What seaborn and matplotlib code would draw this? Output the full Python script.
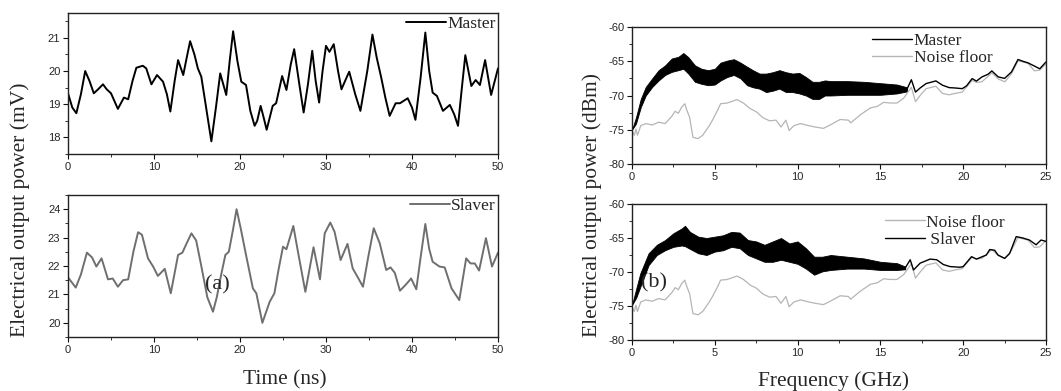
import matplotlib
matplotlib.use("Agg")
import matplotlib.pyplot as plt
from matplotlib.ticker import MultipleLocator
from matplotlib.lines import Line2D
import seaborn as sns
import pandas as pd

# ---------------- data ----------------
master_trace = [
    (0, 19.33), (0.5, 18.9), (0.97, 18.73), (1.5, 19.3), (2.0, 20.0), (2.5, 19.7),
    (3.0, 19.33), (3.5, 19.45), (4.07, 19.6), (4.5, 19.45), (5.0, 19.33), (5.8, 18.86),
    (6.5, 19.2), (7.0, 19.15), (7.5, 19.7), (7.95, 20.1), (8.7, 20.16), (9.1, 20.08),
    (9.7, 19.6), (10.35, 19.88), (11.05, 19.68), (11.5, 19.3), (11.9, 18.78), (12.4, 19.7),
    (12.8, 20.33), (13.4, 19.88), (13.8, 20.4), (14.2, 20.9), (14.7, 20.5), (15.1, 20.08),
    (15.5, 19.83), (16.0, 19.0), (16.67, 17.88), (17.2, 18.9), (17.7, 19.93), (18.4, 19.28),
    (18.8, 20.3), (19.2, 21.2), (19.7, 20.3), (20.15, 19.68), (20.7, 19.58), (21.2, 18.8),
    (21.7, 18.35), (22.0, 18.5), (22.4, 18.95), (22.75, 18.6), (23.1, 18.23), (23.8, 18.95),
    (24.2, 19.03), (24.9, 19.85), (25.4, 19.43), (25.9, 20.2), (26.3, 20.66), (26.9, 19.6),
    (27.4, 18.75), (27.9, 19.6), (28.4, 20.61), (28.8, 19.7), (29.2, 19.05), (29.6, 20.0),
    (30.0, 20.76), (30.4, 20.58), (30.9, 20.81), (31.4, 20.0), (31.8, 19.45), (32.3, 19.75),
    (32.7, 19.98), (33.4, 19.3), (34.0, 18.8), (34.8, 20.0), (35.4, 21.1), (35.9, 20.4),
    (36.4, 19.83), (36.9, 19.2), (37.4, 18.65), (38.1, 19.03), (38.6, 19.03), (39.5, 19.18),
    (40.0, 18.9), (40.4, 18.53), (41.0, 19.8), (41.55, 21.16), (42.0, 20.0), (42.4, 19.35),
    (42.9, 19.25), (43.6, 18.8), (44.4, 18.98), (44.9, 18.7), (45.35, 18.35), (45.8, 19.5),
    (46.2, 20.48), (46.9, 19.55), (47.4, 19.73), (47.9, 19.58), (48.5, 20.33), (49.2, 19.28),
    (50.0, 20.08),
]

slave_trace = [
    (0, 21.6), (0.9, 21.24), (1.5, 21.7), (2.2, 22.47), (2.8, 22.3), (3.3, 21.98),
    (3.9, 22.27), (4.65, 21.53), (5.2, 21.56), (5.8, 21.27), (6.4, 21.5), (7.0, 21.53),
    (7.6, 22.5), (8.15, 23.19), (8.6, 23.1), (9.3, 22.27), (9.9, 21.98), (10.45, 21.65),
    (11.25, 21.9), (11.95, 21.04), (12.8, 22.39), (13.3, 22.47), (13.8, 22.8), (14.35, 23.15),
    (14.9, 22.9), (15.5, 22.0), (16.2, 20.9), (16.86, 20.39), (17.3, 20.9), (17.8, 21.68),
    (18.3, 22.39), (18.7, 22.5), (19.2, 23.3), (19.6, 24.0), (20.1, 23.3), (20.7, 22.39),
    (21.5, 21.21), (21.9, 21.04), (22.6, 20.0), (23.45, 20.74), (24.0, 21.04), (24.5, 21.9),
    (25.0, 22.68), (25.4, 22.59), (26.2, 23.41), (26.8, 22.4), (27.6, 21.09), (28.55, 22.66),
    (29.3, 21.53), (29.85, 23.15), (30.5, 23.53), (31.0, 23.2), (31.7, 22.21), (32.5, 22.78),
    (33.1, 21.92), (33.7, 21.6), (34.3, 21.27), (34.9, 22.3), (35.55, 23.33), (36.25, 22.8),
    (37.0, 21.86), (37.5, 21.95), (38.0, 21.76), (38.6, 21.13), (39.3, 21.35), (39.9, 21.56),
    (40.5, 21.18), (41.0, 22.3), (41.55, 23.48), (42.0, 22.6), (42.4, 22.15), (43.2, 21.98),
    (43.8, 21.95), (44.6, 21.21), (45.5, 20.8), (46.3, 22.27), (46.8, 22.09), (47.3, 22.09),
    (47.8, 21.84), (48.6, 22.98), (49.3, 21.98), (50.0, 22.47),
]

# noisy spectrum band: (freq GHz, upper envelope dBm, lower envelope dBm)
master_band = [
    (0, -75.0, -75.0), (0.24, -73.2, -74.1), (0.53, -70.5, -71.7), (0.83, -68.75, -70.0),
    (1.22, -67.5, -68.75), (1.61, -66.3, -67.8), (2.0, -65.6, -67.0), (2.4, -64.6, -66.55),
    (2.8, -64.35, -66.3), (3.1, -63.8, -66.1), (3.4, -64.4, -66.8), (3.8, -65.6, -68.0),
    (4.2, -66.1, -68.3), (4.6, -66.3, -68.5), (5.0, -66.1, -68.4), (5.35, -65.2, -67.8),
    (5.75, -64.9, -67.3), (6.15, -64.7, -67.0), (6.55, -65.2, -67.5), (6.95, -65.8, -68.5),
    (7.3, -66.3, -68.8), (7.7, -66.8, -69.0), (8.1, -66.8, -69.5), (8.5, -66.6, -69.3),
    (8.9, -66.3, -69.0), (9.3, -66.6, -69.5), (9.7, -66.8, -69.5), (10.1, -66.7, -69.7),
    (10.5, -67.3, -70.0), (10.9, -68.0, -70.5), (11.3, -68.0, -70.5), (11.65, -67.8, -70.0),
    (12.0, -67.9, -70.0), (13.0, -67.9, -69.9), (14.0, -68.0, -69.9), (15.0, -68.2, -69.9),
    (16.0, -68.4, -69.7), (16.6, -68.8, -69.4),
]
master_tail = [
    (16.6, -69.1), (16.87, -67.7), (17.12, -69.5), (17.4, -68.9), (17.76, -68.26),
    (18.35, -67.87), (18.75, -68.5), (19.15, -68.85), (19.5, -68.9), (19.94, -69.0),
    (20.2, -68.6), (20.54, -67.53), (20.8, -67.9), (21.13, -67.29), (21.5, -66.9),
    (21.73, -66.41), (21.9, -66.8), (22.12, -67.29), (22.5, -67.5), (22.92, -66.55),
    (23.31, -64.74), (23.6, -65.0), (23.91, -65.23), (24.3, -65.7), (24.62, -66.1),
    (25.0, -65.1),
]

slave_band = [
    (0, -74.85, -74.85), (0.25, -72.5, -73.8), (0.5, -70.2, -72.2), (1.0, -67.25, -69.0),
    (1.5, -66.0, -67.5), (2.0, -65.3, -66.8), (2.5, -64.3, -66.3), (3.0, -63.6, -66.1),
    (3.2, -63.2, -66.2), (3.5, -64.1, -66.6), (4.0, -64.8, -67.25), (4.5, -65.0, -67.5),
    (5.0, -64.8, -67.0), (5.5, -64.6, -66.8), (6.0, -64.1, -66.3), (6.5, -64.2, -66.5),
    (7.0, -65.3, -67.5), (7.5, -65.5, -68.0), (8.0, -66.0, -68.5), (8.5, -65.5, -68.5),
    (9.0, -65.0, -68.2), (9.5, -65.8, -68.5), (10.0, -65.5, -68.8), (10.5, -66.5, -69.5),
    (11.0, -67.75, -70.4), (11.5, -67.75, -69.9), (12.0, -67.5, -69.7), (13.0, -67.75, -69.5),
    (14.0, -68.0, -69.5), (15.0, -68.5, -69.7), (16.0, -68.7, -69.7), (16.5, -69.2, -69.6),
]
slave_tail = [
    (16.5, -69.4), (16.8, -68.2), (17.0, -69.7), (17.4, -68.7), (18.0, -68.1), (18.4, -68.2),
    (18.8, -68.9), (19.2, -69.2), (19.8, -69.3), (20.0, -69.2), (20.5, -67.75), (20.8, -68.1),
    (21.4, -67.5), (21.6, -66.7), (21.9, -66.8), (22.1, -67.5), (22.5, -68.0), (22.8, -67.3),
    (23.2, -64.8), (23.6, -65.0), (24.0, -65.3), (24.4, -66.0), (24.7, -65.3), (25.0, -65.5),
]

noise_floor = [
    (0, -75.1), (0.14, -75.8), (0.24, -74.9), (0.33, -75.8), (0.53, -74.4), (0.83, -74.1),
    (1.22, -74.3), (1.61, -73.9), (2.0, -74.1), (2.4, -73.05), (2.6, -72.3), (2.8, -72.6),
    (3.0, -71.7), (3.19, -71.2), (3.29, -72.0), (3.48, -73.2), (3.68, -76.1), (3.98, -76.3),
    (4.27, -75.8), (4.47, -75.1), (4.67, -74.4), (4.86, -73.6), (5.16, -72.2), (5.35, -71.2),
    (5.75, -71.1), (6.34, -70.6), (6.73, -71.1), (7.13, -71.9), (7.52, -72.4), (7.91, -73.25),
    (8.31, -73.7), (8.7, -73.6), (9.0, -74.6), (9.29, -73.6), (9.49, -75.1), (9.78, -74.4),
    (10.18, -74.1), (10.67, -74.4), (11.06, -74.6), (11.56, -74.8), (11.97, -74.3),
    (12.57, -73.5), (13.07, -73.6), (13.2, -74.0), (13.8, -72.8), (14.4, -71.8), (14.8, -71.6),
    (15.2, -71.0), (15.6, -71.1), (16.0, -71.1), (16.4, -70.4), (16.87, -68.8), (17.12, -70.9),
    (17.4, -70.0), (17.76, -69.0), (18.35, -68.65), (18.75, -69.7), (19.15, -69.9),
    (19.5, -69.7), (19.94, -69.5), (20.54, -67.8), (20.8, -68.1), (21.13, -68.0),
    (21.73, -66.7), (22.12, -67.6), (22.52, -68.0), (22.92, -66.8), (23.31, -64.94),
    (23.91, -65.3), (24.3, -66.4), (24.62, -66.3), (25.0, -65.4),
]

time_ticks = [0, 10, 20, 30, 40, 50]
freq_ticks = [0, 5, 10, 15, 20, 25]
master_yticks = [18, 19, 20, 21]
slave_yticks = [20, 21, 22, 23, 24]
spec_yticks = [-80, -75, -70, -65, -60]

# ---------------- style ----------------
sns.set_theme(style="ticks")
plt.rcParams["font.family"] = ["Liberation Sans", "DejaVu Sans"]
plt.rcParams["xtick.direction"] = "out"
plt.rcParams["ytick.direction"] = "out"
plt.rcParams["axes.unicode_minus"] = False

SERIF = ["Liberation Serif", "DejaVu Serif"]
TICK_FS = 8
C_MASTER = "#000000"
C_SLAVE = "#6f6f6f"
C_NOISE = "#b5b5b5"

W, H = 1061, 391
fig = plt.figure(figsize=(W / 100, H / 100), dpi=100)


def rect(l, t, r, b):
    return [l / W, 1 - b / H, (r - l) / W, (b - t) / H]


ax_tl = fig.add_axes(rect(68, 13, 498, 154))
ax_bl = fig.add_axes(rect(68, 195, 498, 337))
ax_tr = fig.add_axes(rect(632, 27, 1046, 164))
ax_br = fig.add_axes(rect(632, 204, 1046, 340))


def style(ax, xlim, ylim, xt, yt, xminor, yminor):
    ax.set_xlim(*xlim)
    ax.set_ylim(*ylim)
    ax.set_xticks(xt)
    ax.set_yticks(yt)
    ax.xaxis.set_minor_locator(MultipleLocator(xminor))
    ax.yaxis.set_minor_locator(MultipleLocator(yminor))
    ax.tick_params(which="major", length=3.5, width=0.8, labelsize=TICK_FS, pad=2, color="#111111")
    ax.tick_params(which="minor", length=2, width=0.6, color="#111111")
    for s in ax.spines.values():
        s.set_visible(True)
        s.set_linewidth(1.0)
        s.set_color("#222222")
    ax.set_xlabel("")
    ax.set_ylabel("")
    ax.set_facecolor("white")


def to_df(pairs, cols):
    return pd.DataFrame(pairs, columns=cols)


# ---- (a) time traces ----
dm = to_df(master_trace, ["t", "v"])
ds = to_df(slave_trace, ["t", "v"])
sns.lineplot(data=dm, x="t", y="v", ax=ax_tl, color=C_MASTER, lw=1.4,
             estimator=None, sort=False, label="Master", solid_joinstyle="round")
sns.lineplot(data=ds, x="t", y="v", ax=ax_bl, color=C_SLAVE, lw=1.4,
             estimator=None, sort=False, label="Slaver", solid_joinstyle="round")
style(ax_tl, (0, 50), (17.5, 21.75), time_ticks, master_yticks, 5, 0.5)
style(ax_bl, (0, 50), (19.5, 24.5), time_ticks, slave_yticks, 5, 0.5)
for ax in (ax_tl, ax_bl):
    ax.legend(loc="upper right", frameon=False, prop={"family": SERIF, "size": 12.5},
              handlelength=2.3, handletextpad=0.05, borderaxespad=0.05, borderpad=0.1)
ax_bl.text(17.4, 21.33, "(a)", family=SERIF, fontsize=16, ha="center", va="center")

# ---- (b) spectra ----
dn = to_df(noise_floor, ["f", "v"])


def spectrum(ax, band, tail):
    db = to_df(band, ["f", "hi", "lo"])
    dt = to_df(tail, ["f", "v"])
    ax.fill_between(db["f"], db["lo"], db["hi"], color=C_MASTER, lw=0.6, edgecolor=C_MASTER)
    sns.lineplot(data=dn, x="f", y="v", ax=ax, color=C_NOISE, lw=0.9,
                 estimator=None, sort=False)
    sns.lineplot(data=dt, x="f", y="v", ax=ax, color=C_MASTER, lw=1.0,
                 estimator=None, sort=False)
    style(ax, (0, 25), (-80, -60), freq_ticks, spec_yticks, 2.5, 2.5)


spectrum(ax_tr, master_band, master_tail)
spectrum(ax_br, slave_band, slave_tail)

h_m = Line2D([], [], color=C_MASTER, lw=1.0)
h_n = Line2D([], [], color=C_NOISE, lw=1.0)
ax_tr.legend([h_m, h_n], ["Master", "Noise floor"], loc="upper left",
             bbox_to_anchor=(0.555, 1.03), frameon=False,
             prop={"family": SERIF, "size": 12.5}, handlelength=2.3,
             handletextpad=0.1, labelspacing=0.05, borderpad=0.1)
ax_br.legend([h_n, h_m], ["Noise floor", " Slaver"], loc="upper left",
             bbox_to_anchor=(0.585, 1.0), frameon=False,
             prop={"family": SERIF, "size": 12.5}, handlelength=2.3,
             handletextpad=0.1, labelspacing=0.05, borderpad=0.1)
ax_br.text(1.3, -71.6, "(b)", family=SERIF, fontsize=16, ha="center", va="center")

# ---- shared axis labels ----
fig.text(20 / W, 1 - 210 / H, "Electrical output power (mV)", rotation=90,
         family=SERIF, fontsize=15.5, ha="center", va="center")
fig.text(592 / W, 1 - 205 / H, "Electrical output power (dBm)", rotation=90,
         family=SERIF, fontsize=15.5, ha="center", va="center")
fig.text(285 / W, 1 - 380 / H, "Time (ns)", family=SERIF, fontsize=15.5,
         ha="center", va="center")
fig.text(833 / W, 1 - 381 / H, "Frequency (GHz)", family=SERIF, fontsize=15.5,
         ha="center", va="center")

fig.savefig("out.png", dpi=100, facecolor="white")
